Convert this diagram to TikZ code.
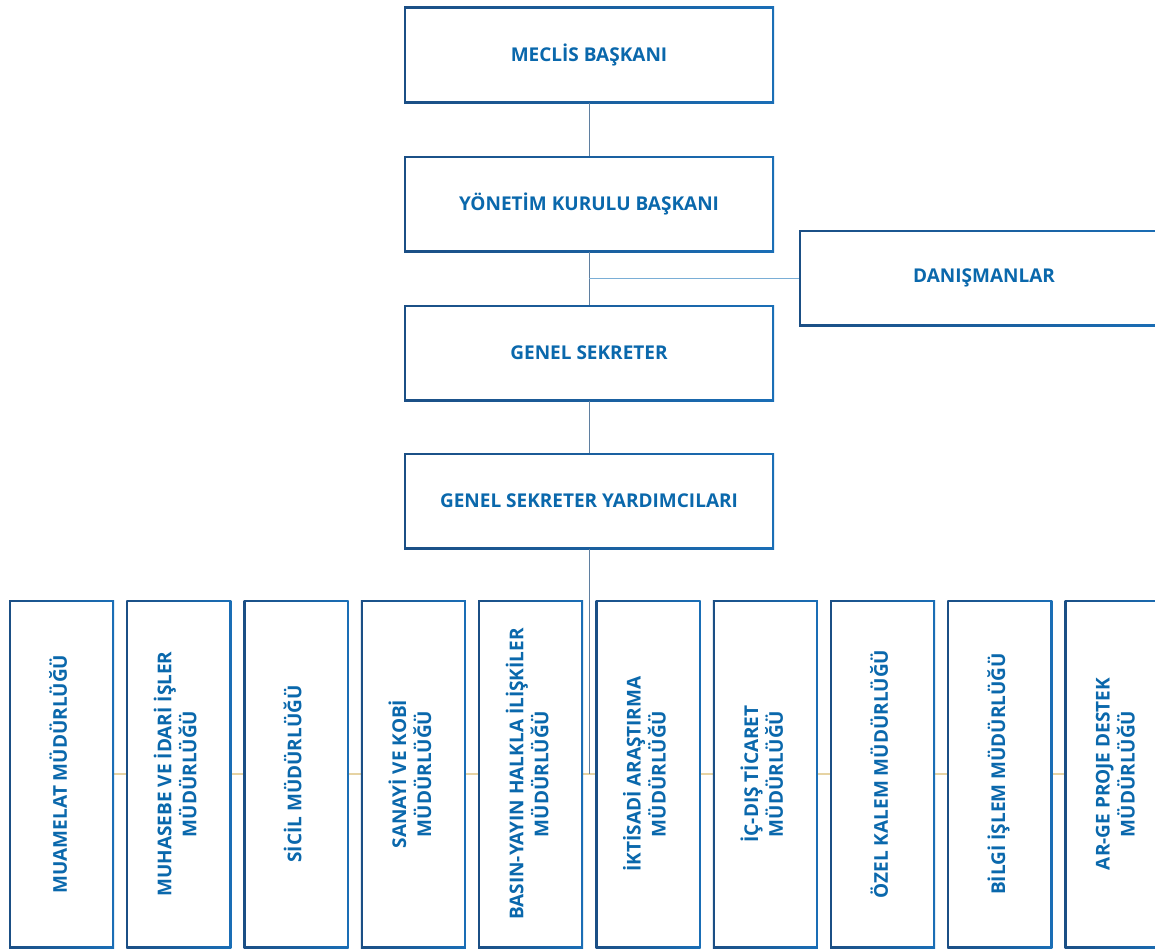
\documentclass[tikz,border=0pt]{standalone}
\usepackage{fontspec}
\setmainfont{Open Sans}
\usetikzlibrary{backgrounds}
\definecolor{bdark}{HTML}{1B4F85}
\definecolor{blight}{HTML}{1898DC}
\definecolor{bmid}{HTML}{1A6EB6}
\definecolor{txtblue}{HTML}{0A68AC}
\definecolor{conn}{HTML}{5F7FA0}
\definecolor{connlight}{HTML}{7AAED6}
\definecolor{tanline}{HTML}{E6D3A3}
\tikzset{
  gbox/.style={minimum width=#1, inner sep=0pt, outer sep=0pt,
    font=\bfseries\fontsize{19}{24}\selectfont, text=txtblue, align=center,
    path picture={
      \shade[left color=bdark, middle color=blight, right color=bmid]
        (path picture bounding box.south west) rectangle (path picture bounding box.north east);
      \fill[white] ([shift={(2pt,2pt)}]path picture bounding box.south west)
        rectangle ([shift={(-2pt,-2pt)}]path picture bounding box.north east);
    }},
  topbox/.style={gbox=370pt, minimum height=96pt},
  subbox/.style={gbox=105pt, minimum height=348pt},
  vline/.style={draw=conn, line width=1pt},
  hline/.style={draw=connlight, line width=1pt},
  tline/.style={draw=tanline, line width=1.5pt}
}
\newcommand{\vtext}[1]{\rotatebox{90}{\begin{tabular}{@{}c@{}}#1\end{tabular}}}
\begin{document}
\begin{tikzpicture}[x=1pt,y=-1pt]
\useasboundingbox (0,0) rectangle (1155,950);
\node[topbox] (mb) at (589,55) {MECLİS BAŞKANI};
\node[topbox] (ykb) at (589,204) {YÖNETİM KURULU BAŞKANI};
\node[topbox] (dan) at (984,278) {DANIŞMANLAR};
\node[topbox] (gs) at (589,353) {GENEL SEKRETER};
\node[topbox] (gsy) at (589,501) {GENEL SEKRETER YARDIMCILARI};
\node[subbox] (b1) at (61.5,774) {\vtext{MUAMELAT MÜDÜRLÜĞÜ}};
\node[subbox] (b2) at (178.8,774) {\vtext{MUHASEBE VE İDARİ İŞLER\\MÜDÜRLÜĞÜ}};
\node[subbox] (b3) at (296.1,774) {\vtext{SİCİL MÜDÜRLÜĞÜ}};
\node[subbox] (b4) at (413.4,774) {\vtext{SANAYİ VE KOBİ\\MÜDÜRLÜĞÜ}};
\node[subbox] (b5) at (530.7,774) {\vtext{BASIN-YAYIN HALKLA İLİŞKİLER\\MÜDÜRLÜĞÜ}};
\node[subbox] (b6) at (648.0,774) {\vtext{İKTİSADİ ARAŞTIRMA\\MÜDÜRLÜĞÜ}};
\node[subbox] (b7) at (765.3,774) {\vtext{İÇ-DIŞ TİCARET\\MÜDÜRLÜĞÜ}};
\node[subbox] (b8) at (882.6,774) {\vtext{ÖZEL KALEM MÜDÜRLÜĞÜ}};
\node[subbox] (b9) at (999.9,774) {\vtext{BİLGİ İŞLEM MÜDÜRLÜĞÜ}};
\node[subbox] (b10) at (1117.2,774) {\vtext{AR-GE PROJE DESTEK\\MÜDÜRLÜĞÜ}};
\coordinate (branch) at (589,278);
\coordinate (foot) at (589,774);
\begin{scope}[on background layer]
\draw[tline] (b1) -- (b10);
\end{scope}
\draw[vline] (mb) -- (ykb);
\draw[vline] (ykb) -- (gs);
\draw[vline] (gs) -- (gsy);
\draw[hline] (branch) -- (dan);
\draw[vline] (gsy.south) -- (foot);
\end{tikzpicture}
\end{document}
